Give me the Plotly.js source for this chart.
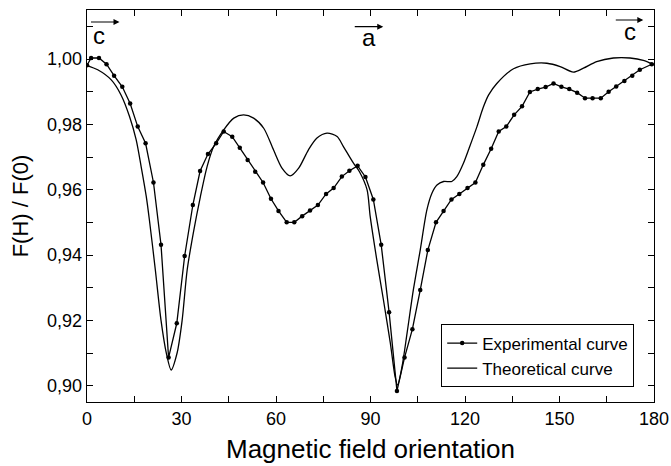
<!DOCTYPE html>
<html>
<head>
<meta charset="utf-8">
<script src="https://cdn.plot.ly/plotly-3.0.1.min.js"></script>
<style>html,body{margin:0;padding:0;background:#fff;}#chart{width:671px;height:466px;}</style>
</head>
<body>
<div id="chart"></div>
<script>
// Experimental curve (angle in degrees, F(H)/F(0))
var expAngle = [0, 1.3, 3.8, 6.2, 8.6, 11.2, 13.7, 16.1, 18.6, 21.1, 23.5, 25.9, 28.5, 31.0, 33.6,
  35.9, 38.4, 41.0, 43.4, 46.1, 48.5, 51.0, 53.4, 55.9, 58.4, 60.8, 63.4, 65.8, 68.3, 70.8,
  73.3, 75.9, 78.3, 80.9, 83.3, 85.9, 88.4, 90.9, 93.4, 95.9, 98.4, 100.8, 103.3, 105.8, 108.2,
  110.8, 113.2, 115.7, 118.2, 120.8, 123.3, 125.8, 128.3, 130.7, 133.1, 135.6, 138.1, 140.6, 143.1,
  145.6, 148.1, 150.6, 153.1, 155.6, 158.1, 160.5, 163.1, 165.6, 168.0, 170.6, 173.1, 175.5, 179.3];
var expValue = [0.9981, 1.0003, 1.0003, 0.9984, 0.9949, 0.9915, 0.9864, 0.9793, 0.9742, 0.9622,
  0.9431, 0.9086, 0.9191, 0.9397, 0.9553, 0.9657, 0.9709, 0.9742, 0.9778, 0.9762,
  0.9728, 0.9691, 0.9655, 0.9622, 0.9572, 0.9535, 0.9500, 0.9500, 0.9519, 0.9536,
  0.9553, 0.9587, 0.9605, 0.9640, 0.9658, 0.9673, 0.9639, 0.9570, 0.9431, 0.9225,
  0.8984, 0.9086, 0.9173, 0.9293, 0.9415, 0.9500, 0.9535, 0.9570, 0.9587, 0.9605,
  0.9622, 0.9676, 0.9725, 0.9778, 0.9793, 0.9829, 0.9855, 0.9899, 0.9908, 0.9914,
  0.9925, 0.9915, 0.9908, 0.9897, 0.9880, 0.9880, 0.9880, 0.9900, 0.9916, 0.9933,
  0.9949, 0.9967, 0.9984];

// Theoretical curve
var thAngle = [0, 3.4, 7.7, 10.8, 13.5, 15.6, 17.2, 18.8, 19.8, 21.7, 23.5, 25.2, 26.7, 28.6, 30.2,
  31.8, 33.8, 36.0, 38.1, 40.2, 43.4, 46.6, 49.7, 52.9, 56.1, 59.2, 61.9, 64.5, 67.2, 70.3,
  73.0, 76.2, 79.4, 81.4, 84.6, 86.5, 88.9, 89.9, 92.0, 94.1, 96.3, 97.8, 98.6, 100.0, 101.6,
  103.6, 105.8, 107.9, 109.5, 111.1, 113.2, 115.8, 117.4, 119.5, 121.3, 123.8, 125.8, 127.5, 130.1,
  135.4, 140.7, 146.0, 150.2, 154.4, 157.6, 161.8, 167.1, 172.4, 176.6, 180];
var thValue = [0.9980, 0.9967, 0.9936, 0.9890, 0.9824, 0.9753, 0.9670, 0.9580, 0.9508, 0.9354, 0.9200, 0.9099, 0.9048, 0.9100, 0.9200,
  0.9354, 0.9470, 0.9579, 0.9670, 0.9732, 0.9783, 0.9819, 0.9829, 0.9819, 0.9788, 0.9722, 0.9666, 0.9642, 0.9666, 0.9722,
  0.9758, 0.9773, 0.9763, 0.9732, 0.9681, 0.9655, 0.9600, 0.9518, 0.9385, 0.9263, 0.9130, 0.9028, 0.9002, 0.9058, 0.9160,
  0.9293, 0.9416, 0.9538, 0.9589, 0.9614, 0.9625, 0.9625, 0.9640, 0.9681, 0.9727, 0.9793, 0.9852, 0.9890, 0.9925,
  0.9970, 0.9985, 0.9987, 0.9977, 0.9960, 0.9972, 0.9992, 1.0003, 1.0003, 0.9996, 0.9982];

var seriesNames = ["Experimental curve", "Theoretical curve"];
var xTicks = [0, 30, 60, 90, 120, 150, 180];
var yTicks = [0.90, 0.92, 0.94, 0.96, 0.98, 1.00];

var FONT = "Liberation Sans, Arial, Helvetica, sans-serif";

var traces = [
  {x: expAngle, y: expValue, name: seriesNames[0], type: "scatter", mode: "lines+markers",
   line: {color: "#000", width: 1.3}, marker: {color: "#000", size: 4.5, symbol: "circle"}},
  {x: thAngle, y: thValue, name: seriesNames[1], type: "scatter", mode: "lines",
   line: {color: "#000", width: 1.3, shape: "spline", smoothing: 0.8}}
];

var axisCommon = {
  showline: true, linecolor: "#000", linewidth: 1.3, mirror: "allticks",
  ticks: "inside", ticklen: 6, tickwidth: 1, tickcolor: "#000",
  showgrid: false, zeroline: false,
  tickfont: {family: FONT, size: 18, color: "#000"}
};

var layout = {
  width: 671, height: 466,
  margin: {l: 87, r: 17, t: 10, b: 64},
  paper_bgcolor: "#fff", plot_bgcolor: "#fff",
  separators: ",.",
  showlegend: true,
  legend: {x: 0.6247, y: 0.037, xanchor: "left", yanchor: "bottom",
    bordercolor: "#000", borderwidth: 1, bgcolor: "#fff",
    font: {family: FONT, size: 17, color: "#000"}, tracegroupgap: 0},
  xaxis: Object.assign({}, axisCommon, {
    range: [0, 180], tickvals: xTicks, ticktext: xTicks.map(String),
    minor: {dtick: 15, tick0: 0, ticks: "inside", ticklen: 6, tickcolor: "#000"},
    title: {text: "Magnetic field orientation", font: {family: FONT, size: 26, color: "#000"}, standoff: 12}
  }),
  yaxis: Object.assign({}, axisCommon, {
    range: [0.895, 1.015], tickvals: yTicks, tickformat: ".2f",
    minor: {dtick: 0.01, tick0: 0.9, ticks: "inside", ticklen: 6, tickcolor: "#000"},
    title: {text: "F(H) / F(0)", font: {family: FONT, size: 22, color: "#000"}, standoff: 12}
  }),
  annotations: [
    {xref: "paper", yref: "paper", x: 0.0573, y: 0.9694, ax: -30, ay: 0, text: "", showarrow: true,
     arrowhead: 2, arrowsize: 1, arrowwidth: 1.2, arrowcolor: "#000"},
    {xref: "paper", yref: "paper", x: 0.0203, y: 0.935, xanchor: "center", yanchor: "middle", text: "c", showarrow: false,
     font: {family: FONT, size: 24, color: "#000"}},
    {xref: "paper", yref: "paper", x: 0.5225, y: 0.9574, ax: -30, ay: 0, text: "", showarrow: true,
     arrowhead: 2, arrowsize: 1, arrowwidth: 1.2, arrowcolor: "#000"},
    {xref: "paper", yref: "paper", x: 0.4966, y: 0.93, xanchor: "center", yanchor: "middle", text: "a", showarrow: false,
     font: {family: FONT, size: 24, color: "#000"}},
    {xref: "paper", yref: "paper", x: 0.9811, y: 0.9745, ax: -29, ay: 0, text: "", showarrow: true,
     arrowhead: 2, arrowsize: 1, arrowwidth: 1.2, arrowcolor: "#000"},
    {xref: "paper", yref: "paper", x: 0.9577, y: 0.946, xanchor: "center", yanchor: "middle", text: "c", showarrow: false,
     font: {family: FONT, size: 24, color: "#000"}}
  ]
};

Plotly.newPlot("chart", traces, layout, {staticPlot: true, displayModeBar: false});
</script>
</body>
</html>
